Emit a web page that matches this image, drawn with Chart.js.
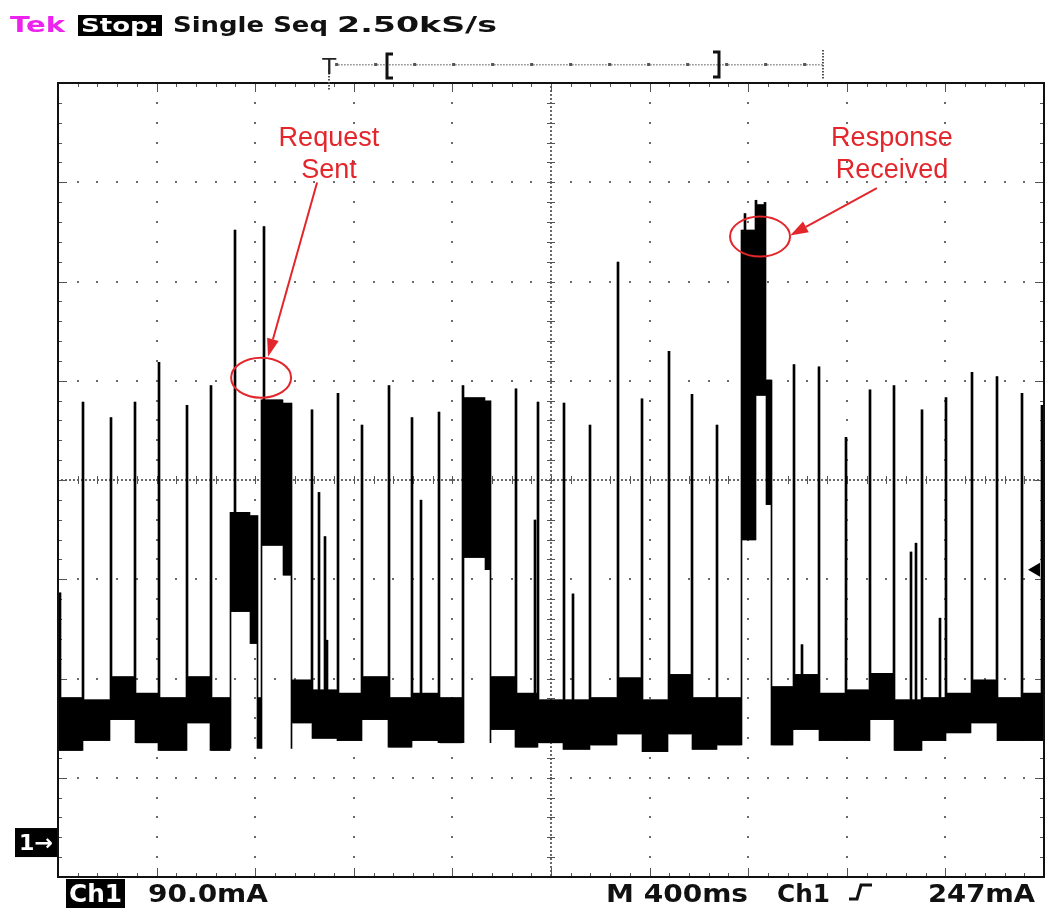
<!DOCTYPE html>
<html>
<head>
<meta charset="utf-8">
<title>Ch1 supply current</title>
<script src="https://cdn.jsdelivr.net/npm/chart.js@4"></script>
<style>
  html, body { margin: 0; padding: 0; background: #fff; }
  #wrap { width: 1057px; height: 909px; position: relative; }
</style>
</head>
<body>
<div id="wrap"><canvas id="scope"></canvas></div>
<script>
// screen: 10 div x 400 ms, 8 div x 90 mA, ground marker 0.35 div above the bottom
const timeMin = 0, timeMax = 4000;
const currentMin = -31.7, currentMax = 688.3;
const msPerDiv = 400, mAPerDiv = 90;
const triggerTime = 1100;   // ms
const triggerLevel = 247;   // mA

// idle band between pulses: segment start (ms), upper and lower edge (mA)
const baseStart  = [0, 101, 211, 312, 406, 523, 617, 698, 949, 1030, 1132, 1233, 1339, 1436, 1542, 1757, 1854, 1947,
                    2049, 2158, 2268, 2369, 2475, 2572, 2673, 2897, 2982, 3087, 3193, 3294, 3391, 3505, 3602, 3704, 3809, 3907];
const baseTop    = [131, 129, 150, 135, 131, 150, 131, 131, 147, 138, 135, 150, 131, 135, 131, 150, 135, 129,
                    129, 131, 149, 129, 152, 131, 131, 141, 152, 135, 138, 153, 129, 131, 135, 147, 131, 135];
const baseBottom = [83, 92, 111, 90, 83, 108, 83, 85, 108, 94, 92, 111, 86, 92, 90, 102, 86, 90,
                    84, 88, 98, 82, 98, 84, 88, 88, 102, 92, 92, 111, 83, 92, 99, 108, 92, 92];

// current pulses: time (ms) and peak (mA)
const spikeTime = [8, 101, 211, 312, 406, 523, 617, 718, 832, 1030, 1055, 1083, 1091, 1132, 1233, 1339, 1436, 1469,
                   1542, 1639, 1854, 1935, 1947, 2049, 2089, 2158, 2268, 2369, 2475, 2572, 2673, 2787, 2828, 2868,
                   2982, 3018, 3087, 3193, 3294, 3391, 3460, 3477, 3505, 3578, 3602, 3704, 3809, 3907, 3988];
const spikePeak = [226, 399, 385, 399, 435, 396, 414, 555, 558, 392, 317, 277, 183, 407, 378, 414, 385, 310,
                   390, 414, 411, 292, 399, 398, 225, 378, 526, 402, 445, 406, 378, 570, 582, 580,
                   433, 179, 431, 367, 410, 414, 263, 271, 392, 203, 403, 426, 422, 407, 396];

// radio activity: start / end (ms), upper and lower envelope (mA)
const burstStart = [698, 779, 824, 913, 1643, 1733, 2771, 2832, 2872];
const burstEnd   = [779, 811, 913, 949, 1733, 1757, 2832, 2872, 2897];
const burstHigh  = [299, 296, 401, 398, 403, 400, 555, 578, 419];
const burstLow   = [209, 180, 269, 242, 258, 247, 274, 405, 306];

// callouts: text lines, text centre and baseline, circled spot, arrow tail and tip
const calloutLines = [['Request', 'Sent'], ['Response', 'Received']];
const calloutTextTime = [1099, 3383];
const calloutTextLevel = [631, 631];
const calloutSpotTime = [824, 2848];
const calloutSpotLevel = [421, 549];
const arrowTailTime = [1051, 3322];
const arrowTailLevel = [598, 593];
const arrowTipTime = [852, 2970];
const arrowTipLevel = [440, 550];

// peak-detect display: one min/max column per screen pixel
const columns = 986;
const step = (timeMax - timeMin) / columns;

function baseIndex(t) {
  let k = 0;
  while (k + 1 < baseStart.length && baseStart[k + 1] <= t) k++;
  return k;
}
function burstIndex(t) {
  for (let b = 0; b < burstStart.length; b++) {
    if (t >= burstStart[b] && t < burstEnd[b]) return b;
  }
  return -1;
}

const envelope = [];
for (let i = 0; i < columns; i++) {
  const t = timeMin + (i + 0.5) * step;
  const k = baseIndex(t);
  let lo = baseBottom[k], hi = baseTop[k];
  const b = burstIndex(t);
  if (b >= 0) {
    hi = burstHigh[b];
    // the first and last column of a burst join back to the idle band
    const inside = burstIndex(t - step) >= 0 && burstIndex(t + step) >= 0;
    if (inside) lo = burstLow[b];
  }
  envelope.push({ x: t, y: [lo, hi] });
}
spikeTime.forEach((ts, s) => {
  const i = Math.floor((ts - timeMin) / step);
  [i, i + 1].forEach(j => {
    if (envelope[j]) envelope[j].y[1] = Math.max(envelope[j].y[1], spikePeak[s]);
  });
});

const FONT = '"DejaVu Sans", Verdana, sans-serif';

// draw text squeezed or stretched to run from left to right
function fitText(ctx, str, left, right, baseline, size, color, weight) {
  ctx.save();
  ctx.font = (weight || 'normal') + ' ' + size + 'px ' + FONT;
  const w = ctx.measureText(str).width;
  ctx.translate(left, baseline);
  ctx.scale((right - left) / w, 1);
  ctx.fillStyle = color;
  ctx.textAlign = 'left';
  ctx.textBaseline = 'alphabetic';
  ctx.fillText(str, 0, 0);
  ctx.restore();
}

const graticule = {
  id: 'graticule',
  beforeDatasetsDraw(chart) {
    const { ctx, chartArea: a, scales: { x, y } } = chart;
    const xs = [], ys = [];
    for (let n = 0; n <= 50; n++) xs.push(x.getPixelForValue(timeMin + n * msPerDiv / 5));
    for (let n = 0; n <= 40; n++) ys.push(y.getPixelForValue(currentMin + n * mAPerDiv / 5));
    const cx = xs[25], cy = ys[20];
    ctx.save();
    ctx.fillStyle = '#6a6a6a';
    const dot = (px, py) => ctx.fillRect(Math.round(px) - 1, Math.round(py) - 1, 2, 2);
    // major divisions: a dot at every minor step
    xs.forEach((px, i) => {
      if (i % 5 === 0 && i > 0 && i < 50 && i !== 25) ys.forEach(py => dot(px, py));
    });
    ys.forEach((py, j) => {
      if (j % 5 === 0 && j > 0 && j < 40 && j !== 20) xs.forEach(px => dot(px, py));
    });
    // centre cross, finely dotted
    for (let px = a.left; px <= a.right; px += 4) dot(px, cy);
    for (let py = a.top; py <= a.bottom; py += 4) dot(cx, py);
    ctx.strokeStyle = '#555';
    ctx.lineWidth = 1;
    const line = (x1, y1, x2, y2) => {
      ctx.beginPath(); ctx.moveTo(x1, y1); ctx.lineTo(x2, y2); ctx.stroke();
    };
    xs.forEach((px, i) => {
      const len = i % 5 === 0 ? 9 : 4;
      const p = Math.round(px) + 0.5;
      line(p, cy - 4, p, cy + 4);
      line(p, a.top, p, a.top + len);
      line(p, a.bottom - len, p, a.bottom);
    });
    ys.forEach((py, j) => {
      const len = j % 5 === 0 ? 9 : 4;
      const p = Math.round(py) + 0.5;
      line(cx - 4, p, cx + 4, p);
      line(a.left, p, a.left + len, p);
      line(a.right - len, p, a.right, p);
    });
    ctx.restore();
  },
  afterDatasetsDraw(chart) {
    const { ctx, chartArea: a } = chart;
    ctx.save();
    ctx.strokeStyle = '#111';
    ctx.lineWidth = 2;
    ctx.strokeRect(a.left, a.top, a.right - a.left, a.bottom - a.top);
    ctx.restore();
  }
};

const overlay = {
  id: 'overlay',
  afterDraw(chart) {
    const { ctx, chartArea: a, scales: { x, y } } = chart;
    ctx.save();

    // header
    fitText(ctx, 'Tek', 10, 65, 32, 21, '#ee22ee', 'bold');
    ctx.fillStyle = '#000';
    ctx.fillRect(78, 15, 84, 21);
    fitText(ctx, 'Stop:', 81, 159, 32, 20, '#fff', 'bold');
    fitText(ctx, 'Single Seq', 173, 328, 32, 21, '#111', 'bold');
    fitText(ctx, '2.50kS/s', 337, 497, 32, 21, '#111', 'bold');

    // record position bar with trigger point
    const tx = x.getPixelForValue(triggerTime);
    ctx.fillStyle = '#888';
    for (let px = tx + 6; px <= 823; px += 3) ctx.fillRect(px, 64, 1.5, 1.5);
    ctx.fillStyle = '#555';
    for (let px = tx + 6; px <= 823; px += 39) ctx.fillRect(px, 63, 3, 3);
    for (let py = 50; py <= 79; py += 3) ctx.fillRect(822, py, 2, 1.5);
    for (let py = 70; py <= 88; py += 3) ctx.fillRect(Math.round(tx) - 1, py, 2, 1.5);
    fitText(ctx, 'T', tx - 7, tx + 7, 74, 22, '#222', 'normal');
    ctx.strokeStyle = '#111';
    ctx.lineWidth = 3;
    ctx.beginPath();
    ctx.moveTo(393, 54); ctx.lineTo(387, 54); ctx.lineTo(387, 78); ctx.lineTo(393, 78);
    ctx.moveTo(713, 52); ctx.lineTo(719, 52); ctx.lineTo(719, 77); ctx.lineTo(713, 77);
    ctx.stroke();

    // trigger level marker
    const ty = y.getPixelForValue(triggerLevel);
    ctx.fillStyle = '#000';
    ctx.beginPath();
    ctx.moveTo(a.right - 16, ty); ctx.lineTo(a.right - 4, ty - 7); ctx.lineTo(a.right - 4, ty + 7);
    ctx.closePath(); ctx.fill();

    // channel 1 ground marker
    const gy = y.getPixelForValue(0);
    ctx.fillRect(15, gy - 14, 42, 29);
    fitText(ctx, '1\u2192', 19, 53, gy + 8, 22, '#fff', 'bold');

    // footer
    ctx.fillStyle = '#000';
    ctx.fillRect(66, 879, 59, 29);
    fitText(ctx, 'Ch1', 69, 122, 902, 24, '#fff', 'bold');
    fitText(ctx, '90.0mA', 148, 268, 902, 24, '#111', 'bold');
    fitText(ctx, 'M 400ms', 606, 748, 902, 24, '#111', 'bold');
    fitText(ctx, 'Ch1', 777, 830, 902, 24, '#111', 'bold');
    fitText(ctx, '247mA', 928, 1035, 902, 24, '#111', 'bold');
    ctx.strokeStyle = '#111';
    ctx.lineWidth = 3;
    ctx.beginPath();
    ctx.moveTo(849, 899); ctx.lineTo(857, 899); ctx.lineTo(861, 885); ctx.lineTo(872, 885);
    ctx.stroke();

    // callouts
    const red = '#e3262b';
    calloutLines.forEach((lines, c) => {
      const px = x.getPixelForValue(calloutTextTime[c]);
      const py = y.getPixelForValue(calloutTextLevel[c]);
      ctx.font = '27px "Liberation Sans", Arial, sans-serif';
      ctx.fillStyle = red;
      ctx.textAlign = 'center';
      ctx.textBaseline = 'alphabetic';
      lines.forEach((s, k) => ctx.fillText(s, px, py + k * 32));

      ctx.strokeStyle = red;
      ctx.lineWidth = 2;
      ctx.beginPath();
      ctx.ellipse(x.getPixelForValue(calloutSpotTime[c]), y.getPixelForValue(calloutSpotLevel[c]), 30, 20, 0, 0, Math.PI * 2);
      ctx.stroke();

      const x1 = x.getPixelForValue(arrowTailTime[c]), y1 = y.getPixelForValue(arrowTailLevel[c]);
      const x2 = x.getPixelForValue(arrowTipTime[c]), y2 = y.getPixelForValue(arrowTipLevel[c]);
      const ang = Math.atan2(y2 - y1, x2 - x1);
      const hl = 18, hw = 6;
      const bx = x2 - hl * Math.cos(ang), by = y2 - hl * Math.sin(ang);
      ctx.beginPath(); ctx.moveTo(x1, y1); ctx.lineTo(bx, by); ctx.stroke();
      ctx.fillStyle = red;
      ctx.beginPath();
      ctx.moveTo(x2, y2);
      ctx.lineTo(bx + hw * Math.sin(ang), by - hw * Math.cos(ang));
      ctx.lineTo(bx - hw * Math.sin(ang), by + hw * Math.cos(ang));
      ctx.closePath(); ctx.fill();
    });

    ctx.restore();
  }
};

new Chart(document.getElementById('scope'), {
  type: 'bar',
  data: {
    datasets: [{
      label: 'Ch1',
      data: envelope,
      backgroundColor: '#000',
      borderWidth: 0,
      barPercentage: 1,
      categoryPercentage: 1,
      grouped: false
    }]
  },
  options: {
    responsive: true,
    maintainAspectRatio: false,
    animation: false,
    layout: { padding: { left: 58, top: 83, right: 13, bottom: 32 } },
    plugins: { legend: { display: false }, tooltip: { enabled: false } },
    scales: {
      x: { type: 'linear', min: timeMin, max: timeMax, offset: false, display: false },
      y: { min: currentMin, max: currentMax, display: false }
    }
  },
  plugins: [graticule, overlay]
});
</script>
</body>
</html>
